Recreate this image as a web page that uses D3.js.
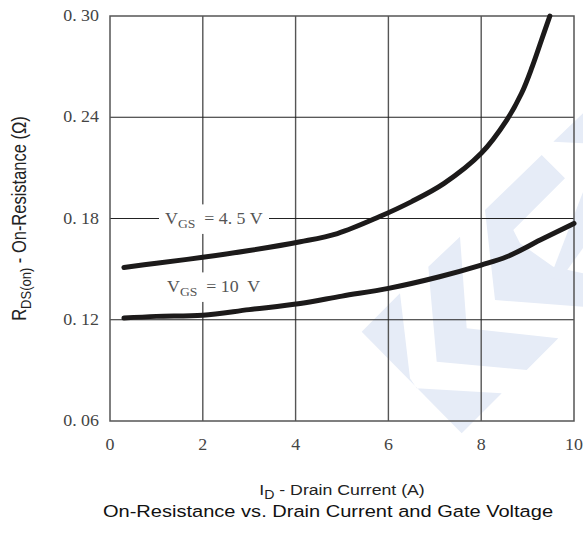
<!DOCTYPE html>
<html>
<head>
<meta charset="utf-8">
<script src="https://cdn.jsdelivr.net/npm/d3@7"></script>
<style>
  html, body { margin: 0; padding: 0; background: #fff; }
  svg { display: block; }
</style>
</head>
<body>
<svg id="chart" width="583" height="538"></svg>
<script>
// Drain current (A) and on-resistance (ohm) for two gate voltages
const currentVgs45 = [0.3, 1.0, 2.0, 3.0, 4.1, 4.9, 5.8, 6.5, 7.2, 8.0, 8.55, 8.87, 9.1, 9.3, 9.48];
const rdsVgs45     = [0.151, 0.1535, 0.157, 0.161, 0.1662, 0.1711, 0.181, 0.190, 0.2008, 0.2186, 0.2383, 0.2542, 0.270, 0.2858, 0.300];
const currentVgs10 = [0.3, 1.0, 2.0, 3.0, 4.1, 5.0, 6.0, 7.1, 8.0, 8.55, 9.27, 10.0];
const rdsVgs10     = [0.121, 0.122, 0.1227, 0.126, 0.1296, 0.134, 0.1386, 0.1455, 0.1524, 0.1573, 0.1672, 0.1771];

const xTicks = [0, 2, 4, 6, 8, 10];
const yTicks = [0.06, 0.12, 0.18, 0.24, 0.30];
const yTickLabels = ["0. 06", "0. 12", "0. 18", "0. 24", "0. 30"];

const svg = d3.select("#chart");
const plotLeft = 110, plotRight = 574, plotTop = 16, plotBottom = 421;
const stretch = 1.18; // text is drawn slightly widened

const x = d3.scaleLinear().domain([0, 10]).range([plotLeft, plotRight]);
const y = d3.scaleLinear().domain([0.06, 0.30]).range([plotBottom, plotTop]);

// Faint logo watermark behind the grid
const wm = [
  [[361.7,331.7],[400,293.3],[410,378.3],[416.7,388.3],[501.7,393.3],[461.7,433.3]],
  [[428.3,266.7],[460,236.7],[466.7,328.3],[558.3,338.3],[526.7,370],[436.7,361.7]],
  [[485,210],[541.7,155],[565,178.3],[513.3,230],[520,243.3],[553.3,266.7],[583,273.3],[583,306.7],[495,300]],
  [[553.3,141.7],[583,113.3],[583,143.3]],
  [[550,278],[583,192],[583,248],[560,280]]
];
svg.append("g").selectAll("path").data(wm).join("path")
  .attr("d", d => "M" + d.join("L") + "Z")
  .attr("fill", "#e6ecf7");

// Grid
const grid = svg.append("g");
grid.selectAll("line.v").data(xTicks.slice(1, -1)).join("line")
  .attr("x1", d => x(d)).attr("x2", d => x(d))
  .attr("y1", plotTop).attr("y2", plotBottom)
  .attr("stroke", "#555").attr("stroke-width", 1.4);
grid.selectAll("line.h").data(yTicks.slice(1, -1)).join("line")
  .attr("x1", plotLeft).attr("x2", plotRight)
  .attr("y1", d => y(d)).attr("y2", d => y(d))
  .attr("stroke", "#222").attr("stroke-width", 1.1);
grid.append("rect")
  .attr("x", plotLeft).attr("y", plotTop)
  .attr("width", plotRight - plotLeft).attr("height", plotBottom - plotTop)
  .attr("fill", "none").attr("stroke", "#555").attr("stroke-width", 1.5);

// Tick labels
const tickFont = "'Liberation Serif', 'DejaVu Serif', serif";
svg.append("g").selectAll("text").data(xTicks).join("text")
  .attr("transform", d => `translate(${x(d)},450) scale(1.12,1)`)
  .attr("text-anchor", "middle")
  .attr("font-family", tickFont).attr("font-size", 16)
  .attr("fill", "#444")
  .text(d => d);
svg.append("g").selectAll("text").data(yTicks).join("text")
  .attr("transform", d => `translate(99,${y(d) + 5}) scale(1.12,1)`)
  .attr("text-anchor", "end")
  .attr("font-family", tickFont).attr("font-size", 16)
  .attr("xml:space", "preserve")
  .attr("fill", "#444")
  .text((d, i) => yTickLabels[i]);

// Series labels with white backing
function seriesLabel(xPos, yPos, value) {
  const g = svg.append("g");
  const bg = g.append("rect").attr("fill", "#fff");
  const inner = g.append("g").attr("transform", `translate(${xPos},${yPos}) scale(1.05,1)`);
  const t = inner.append("text")
    .attr("font-family", tickFont).attr("font-size", 17)
    .attr("fill", "#555")
    .attr("xml:space", "preserve");
  t.append("tspan").text("V");
  t.append("tspan").attr("dy", 4).attr("font-size", 13).text("GS");
  t.append("tspan").attr("dy", -4).text("  = " + value + " V");
  const b = t.node().getBBox();
  const w = b.width * 1.05;
  bg.attr("x", xPos + b.x * 1.05 - 6).attr("y", yPos + b.y - 4)
    .attr("width", w + 12).attr("height", b.height + 7);
}
seriesLabel(165, 224, "4. 5");
seriesLabel(167, 292, "10 ");

// Curves
const line = d3.line()
  .x(d => x(d[0])).y(d => y(d[1]))
  .curve(d3.curveCatmullRom.alpha(0.5));
const series = [
  d3.zip(currentVgs45, rdsVgs45),
  d3.zip(currentVgs10, rdsVgs10)
];
svg.append("g").selectAll("path").data(series).join("path")
  .attr("d", line)
  .attr("fill", "none")
  .attr("stroke", "#1c1a1a")
  .attr("stroke-width", 5)
  .attr("stroke-linecap", "round")
  .attr("stroke-linejoin", "round");

// Axis titles
const sans = "'Liberation Sans', Arial, sans-serif";
const yl = svg.append("text")
  .attr("transform", `translate(26,${(plotTop + plotBottom) / 2}) scale(${stretch},1) rotate(-90)`)
  .attr("text-anchor", "middle")
  .attr("font-family", sans).attr("font-size", 16.5)
  .attr("fill", "#222");
yl.append("tspan").text("R");
yl.append("tspan").attr("dy", 4).attr("font-size", 13).text("DS(on)");
yl.append("tspan").attr("dy", -4).text(" - On-Resistance (Ω)");

const xl = svg.append("text")
  .attr("transform", `translate(${x(5)},495) scale(${stretch},1)`)
  .attr("text-anchor", "middle")
  .attr("font-family", sans).attr("font-size", 15)
  .attr("fill", "#222");
xl.append("tspan").text("I");
xl.append("tspan").attr("dy", 4).attr("font-size", 12).text("D");
xl.append("tspan").attr("dy", -4).text(" - Drain Current (A)");

svg.append("text")
  .attr("transform", `translate(${x(5) - 14},517) scale(${stretch},1)`)
  .attr("text-anchor", "middle")
  .attr("font-family", sans).attr("font-size", 17)
  .attr("fill", "#111")
  .text("On-Resistance vs. Drain Current and Gate Voltage");
</script>
</body>
</html>
